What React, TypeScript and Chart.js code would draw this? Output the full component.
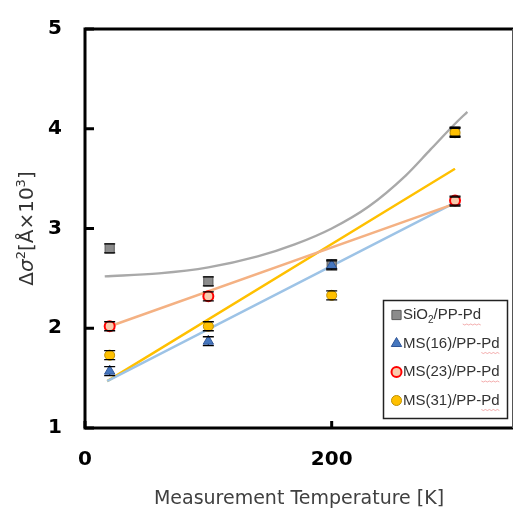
import { useEffect, useRef } from 'react';
import { Chart, registerables } from 'chart.js';

Chart.register(...registerables);

// ---- data ----
const temperatures = [20, 100, 200, 300];
const sio2Values = [2.8, 2.47, 2.64, 3.97];
const ms16Values = [1.57, 1.87, 2.63, 3.27];
const ms23Temps = [20, 100, 300];
const ms23Values = [2.02, 2.32, 3.28];
const ms31Values = [1.73, 2.02, 2.33, 3.96];
const errorSize = 0.045;

const sio2FitTemps = [16, 60, 100, 140, 170, 200, 230, 260, 280, 300, 310];
const sio2FitValues = [2.52, 2.55, 2.61, 2.72, 2.84, 3.0, 3.22, 3.53, 3.79, 4.05, 4.17];
const fitTemps = [18, 300];
const ms16FitValues = [1.47, 3.26];
const ms23FitValues = [2.01, 3.25];
const ms31FitValues = [1.47, 3.6];

const xTickValues = [0, 200];
const yTickValues = [1, 2, 3, 4, 5];
const seriesLabels = ['SiO₂/PP-Pd', 'MS(16)/PP-Pd', 'MS(23)/PP-Pd', 'MS(31)/PP-Pd'];
const xTitle = 'Measurement Temperature [K]';
// y title pieces: [text, style] where style: n = normal, i = italic, s = superscript
const yTitleParts: [string, string][] = [
  ['Δ', 'n'],
  ['σ', 'i'],
  ['2', 's'],
  ['[Å×10', 'n'],
  ['3', 's'],
  [']', 'n'],
];

const toPts = (xs: number[], ys: number[]) => xs.map((x, i) => ({ x, y: ys[i] }));

const markerStyles = [
  { pointStyle: 'rect', radius: 6.5, fill: '#8C8C8C', stroke: '#5A5A5A', width: 1 },
  { pointStyle: 'triangle', radius: 6, fill: '#4677BF', stroke: '#2F5597', width: 1 },
  { pointStyle: 'circle', radius: 5, fill: '#F8CBAD', stroke: '#FF0000', width: 2 },
  { pointStyle: 'circle', radius: 5, fill: '#FFC000', stroke: '#BF9000', width: 1 },
];

function drawErrors(chart: any, part: 'stem' | 'caps') {
  const { ctx } = chart;
  const x = chart.scales.x;
  const y = chart.scales.y;
  ctx.save();
  ctx.strokeStyle = '#000';
  ctx.lineWidth = 1.3;
  chart.data.datasets.forEach((ds: any) => {
    if (!ds.errorBar) return;
    ds.data.forEach((p: any) => {
      const px = x.getPixelForValue(p.x);
      const top = y.getPixelForValue(p.y + ds.errorBar);
      const bot = y.getPixelForValue(p.y - ds.errorBar);
      ctx.beginPath();
      if (part === 'stem') {
        ctx.moveTo(px, top);
        ctx.lineTo(px, bot);
      } else {
        ctx.moveTo(px - 5.5, top);
        ctx.lineTo(px + 5.5, top);
        ctx.moveTo(px - 5.5, bot);
        ctx.lineTo(px + 5.5, bot);
      }
      ctx.stroke();
    });
  });
  ctx.restore();
}

const errorBarPlugin = {
  id: 'errorBars',
  beforeDatasetsDraw(chart: any) {
    drawErrors(chart, 'stem');
  },
  afterDatasetsDraw(chart: any) {
    drawErrors(chart, 'caps');
  },
};

const framePlugin = {
  id: 'frame',
  afterDatasetsDraw(chart: any) {
    const { ctx, chartArea } = chart;
    const { left, right, top, bottom } = chartArea;
    const x = chart.scales.x;
    const y = chart.scales.y;
    ctx.save();
    ctx.strokeStyle = '#000';
    ctx.lineWidth = 3;
    ctx.beginPath();
    ctx.moveTo(left, top - 1.5);
    ctx.lineTo(left, bottom + 1.5);
    ctx.moveTo(left - 1.5, bottom);
    ctx.lineTo(right, bottom);
    ctx.moveTo(left - 1.5, top);
    ctx.lineTo(right, top);
    ctx.stroke();
    // inward ticks
    ctx.beginPath();
    yTickValues.forEach((v) => {
      const py = y.getPixelForValue(v);
      ctx.moveTo(left, py);
      ctx.lineTo(left + 9, py);
    });
    xTickValues.forEach((v) => {
      const px = x.getPixelForValue(v);
      ctx.moveTo(px, bottom);
      ctx.lineTo(px, bottom - 7);
    });
    ctx.stroke();
    ctx.strokeStyle = '#555';
    ctx.lineWidth = 1;
    ctx.beginPath();
    ctx.moveTo(right - 0.5, top);
    ctx.lineTo(right - 0.5, bottom);
    ctx.stroke();
    ctx.restore();
  },
};

const yTitlePlugin = {
  id: 'yTitle',
  afterDraw(chart: any) {
    const { ctx, chartArea } = chart;
    const fam = '"DejaVu Sans", sans-serif';
    const fontFor = (s: string) =>
      s === 'i' ? `italic 20px ${fam}` : s === 's' ? `13px ${fam}` : `20px ${fam}`;
    ctx.save();
    let total = 0;
    yTitleParts.forEach(([t, s]) => {
      ctx.font = fontFor(s);
      total += ctx.measureText(t).width;
    });
    const cy = (chartArea.top + chartArea.bottom) / 2;
    ctx.translate(26, cy);
    ctx.rotate(-Math.PI / 2);
    ctx.fillStyle = '#333';
    ctx.textBaseline = 'alphabetic';
    ctx.textAlign = 'left';
    let tx = -total / 2;
    yTitleParts.forEach(([t, s]) => {
      ctx.font = fontFor(s);
      ctx.fillText(t, tx, s === 's' ? -1 : 7);
      tx += ctx.measureText(t).width;
    });
    ctx.restore();
  },
};

function drawMarker(ctx: CanvasRenderingContext2D, i: number, cx: number, cy: number) {
  const m = markerStyles[i];
  ctx.save();
  ctx.fillStyle = m.fill;
  ctx.strokeStyle = m.stroke;
  ctx.lineWidth = m.width;
  ctx.beginPath();
  if (m.pointStyle === 'rect') {
    const s = m.radius * Math.SQRT1_2;
    ctx.rect(cx - s, cy - s, 2 * s, 2 * s);
  } else if (m.pointStyle === 'triangle') {
    const r = m.radius;
    ctx.moveTo(cx, cy - r);
    ctx.lineTo(cx + r * 0.866, cy + r * 0.5);
    ctx.lineTo(cx - r * 0.866, cy + r * 0.5);
    ctx.closePath();
  } else {
    ctx.arc(cx, cy, m.radius, 0, Math.PI * 2);
  }
  ctx.fill();
  ctx.stroke();
  ctx.restore();
}

const legendPlugin = {
  id: 'boxLegend',
  afterDraw(chart: any) {
    const { ctx } = chart;
    const bx = 383.5;
    const by = 300.5;
    const bw = 124;
    const bh = 118;
    ctx.save();
    ctx.fillStyle = '#fff';
    ctx.fillRect(bx, by, bw, bh);
    ctx.strokeStyle = '#222';
    ctx.lineWidth = 1.5;
    ctx.strokeRect(bx, by, bw, bh);
    const rows = [315, 343.5, 372, 400.5];
    const font = '15px "Liberation Sans", Arial, sans-serif';
    const subFont = '10px "Liberation Sans", Arial, sans-serif';
    seriesLabels.forEach((label, i) => {
      const cy = rows[i];
      drawMarker(ctx, i, 396.5, cy);
      ctx.fillStyle = '#333';
      ctx.textBaseline = 'middle';
      ctx.textAlign = 'left';
      let tx = 403;
      const parts = label.split('₂');
      parts.forEach((part, k) => {
        ctx.font = font;
        ctx.fillText(part, tx, cy);
        tx += ctx.measureText(part).width;
        if (k < parts.length - 1) {
          ctx.font = subFont;
          ctx.fillText('2', tx, cy + 5);
          tx += ctx.measureText('2').width;
        }
      });
      // spell-check squiggle under "Pd"
      ctx.font = font;
      const pdW = ctx.measureText('Pd').width;
      const sx = tx - pdW;
      ctx.strokeStyle = 'rgba(235,120,120,0.6)';
      ctx.lineWidth = 1;
      ctx.beginPath();
      for (let xx = sx, k = 0; xx <= tx; xx += 2, k++) {
        const yy = cy + 9 + (k % 2 === 0 ? 0 : 1);
        if (k === 0) ctx.moveTo(xx, yy);
        else ctx.lineTo(xx, yy);
      }
      ctx.stroke();
    });
    ctx.restore();
  },
};

export default function App() {
  const ref = useRef<HTMLCanvasElement | null>(null);

  useEffect(() => {
    if (!ref.current) return;
    Chart.defaults.font.family = '"DejaVu Sans", sans-serif';
    const pointDs = (label: string, xs: number[], ys: number[], i: number, order: number) => {
      const m = markerStyles[i];
      return {
        label,
        data: toPts(xs, ys),
        showLine: false,
        pointStyle: m.pointStyle,
        pointRadius: m.radius,
        pointBackgroundColor: m.fill,
        pointBorderColor: m.stroke,
        pointBorderWidth: m.width,
        errorBar: errorSize,
        order,
      };
    };
    const lineDs = (label: string, xs: number[], ys: number[], color: string, order: number) => ({
      label,
      data: toPts(xs, ys),
      showLine: true,
      borderColor: color,
      borderWidth: 2.4,
      pointRadius: 0,
      cubicInterpolationMode: 'monotone',
      fill: false,
      order,
    });

    const chart = new Chart(ref.current, {
      type: 'scatter',
      data: {
        datasets: [
          pointDs(seriesLabels[3], temperatures, ms31Values, 3, 1),
          pointDs(seriesLabels[2], ms23Temps, ms23Values, 2, 2),
          pointDs(seriesLabels[1], temperatures, ms16Values, 1, 3),
          pointDs(seriesLabels[0], temperatures, sio2Values, 0, 4),
          lineDs('SiO2 fit', sio2FitTemps, sio2FitValues, '#A9A9A9', 10),
          lineDs('MS23 fit', fitTemps, ms23FitValues, '#F4B183', 11),
          lineDs('MS16 fit', fitTemps, ms16FitValues, '#9DC3E6', 12),
          lineDs('MS31 fit', fitTemps, ms31FitValues, '#FFC000', 13),
        ] as any,
      },
      options: {
        responsive: false,
        animation: false,
        layout: { autoPadding: false, padding: { top: 29, right: 1, left: 0, bottom: 0 } },
        plugins: {
          legend: { display: false },
          tooltip: { enabled: false },
        },
        scales: {
          x: {
            type: 'linear',
            min: 0,
            max: 347,
            afterBuildTicks: (s: any) => {
              s.ticks = xTickValues.map((v) => ({ value: v }));
            },
            afterFit: (s: any) => {
              s.height = 84;
              s.paddingLeft = 0;
              s.paddingRight = 0;
            },
            grid: { display: false, drawTicks: false },
            border: { display: false },
            ticks: {
              padding: 20,
              color: '#000',
              font: { size: 20, weight: 'bold' },
              maxRotation: 0,
            },
            title: {
              display: true,
              text: xTitle,
              color: '#404040',
              font: { size: 19 },
              padding: { top: 0, bottom: 2 },
            },
          },
          y: {
            type: 'linear',
            min: 1,
            max: 5,
            afterBuildTicks: (s: any) => {
              s.ticks = yTickValues.map((v) => ({ value: v }));
            },
            afterFit: (s: any) => {
              s.width = 85;
              s.paddingTop = 0;
              s.paddingBottom = 0;
            },
            grid: { display: false, drawTicks: false },
            border: { display: false },
            ticks: {
              padding: 23,
              color: '#000',
              font: { size: 20, weight: 'bold' },
            },
            title: { display: false },
          },
        },
      } as any,
      plugins: [errorBarPlugin, framePlugin, yTitlePlugin, legendPlugin],
    });
    return () => chart.destroy();
  }, []);

  return (
    <div style={{ position: 'fixed', left: 0, top: 0, width: 514, height: 512, background: '#fff' }}>
      <canvas ref={ref} width={514} height={512} />
    </div>
  );
}
